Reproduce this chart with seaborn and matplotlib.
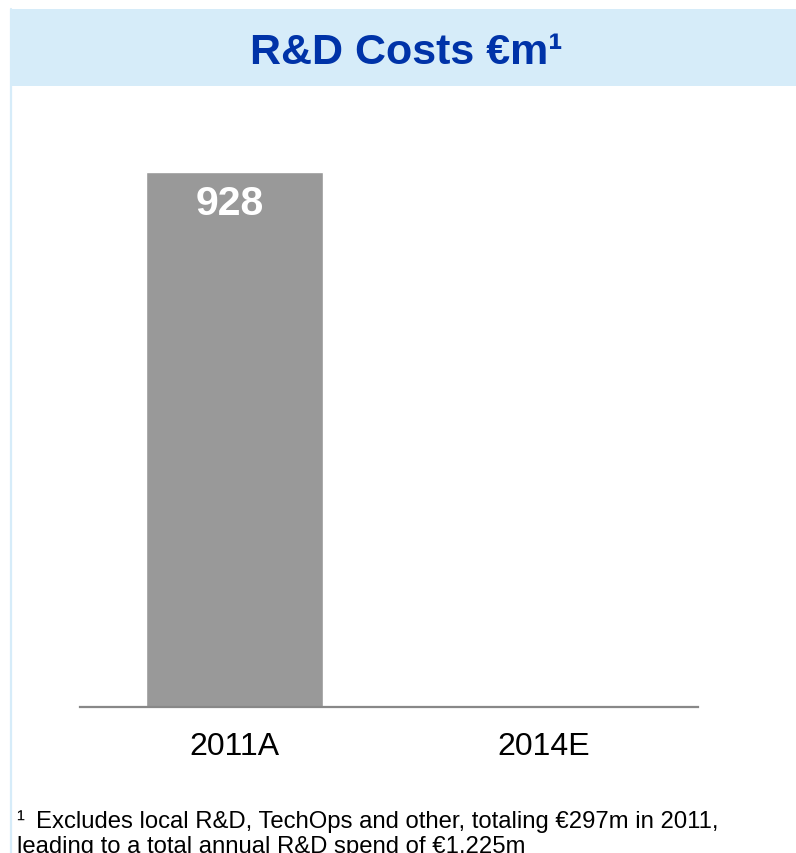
import matplotlib
matplotlib.use("Agg")
import matplotlib.pyplot as plt
import seaborn as sns
import pandas as pd
from matplotlib.patches import Rectangle
from matplotlib.lines import Line2D

# Data
categories = ["2011A", "2014E"]
values = [928, 0]
value_labels = ["928", ""]

title = "R&D Costs €m¹"
footnote_mark = "¹"
footnote_lines = [
    "Excludes local R&D, TechOps and other, totaling €297m in 2011,",
    "leading to a total annual R&D spend of €1,225m",
]

sns.set_theme(style="white")
plt.rcParams["font.family"] = ["Liberation Sans", "DejaVu Sans"]

W, H = 796, 854
fig = plt.figure(figsize=(W / 100, H / 100), dpi=100)
fig.patch.set_facecolor("white")

# Header band and left frame line
fig.patches.append(Rectangle((10 / W, 1 - 87 / H), (W - 10) / W, 77 / H,
                             transform=fig.transFigure, facecolor="#D6ECF9",
                             edgecolor="none", zorder=0))
fig.lines.append(Line2D([11 / W, 11 / W], [0, 1 - 10 / H], transform=fig.transFigure,
                        color="#D6ECF9", linewidth=1.6, zorder=0))

fig.text(406 / W, 1 - 64 / H, title, ha="center", va="baseline",
         fontsize=31, fontweight="bold", color="#0033A8")

# Plot area
ax_left, ax_right = 80, 698
ax_bottom, ax_top = 708, 120
ax = fig.add_axes([ax_left / W, 1 - ax_bottom / H,
                   (ax_right - ax_left) / W, (ax_bottom - ax_top) / H])
ax.set_facecolor("none")

df = pd.DataFrame({"period": categories, "cost": values})
sns.barplot(data=df, x="period", y="cost", color="#999999", saturation=1,
            width=0.576, ax=ax)

ax.set_xlim(-0.5, 1.5)
ax.set_ylim(0, 1020)
ax.set_xlabel("")
ax.set_ylabel("")
ax.set_yticks([])
for side in ["top", "left", "right"]:
    ax.spines[side].set_visible(False)
ax.spines["bottom"].set_color("#888888")
ax.spines["bottom"].set_linewidth(1.6)
ax.tick_params(axis="x", length=0, pad=17.5, labelsize=23, labelcolor="black")

for i, (v, lab) in enumerate(zip(values, value_labels)):
    if lab:
        ax.annotate(lab, xy=(i, v), xytext=(-3.5, -30.2), textcoords="offset points",
                    ha="center", va="baseline", fontsize=29.5, fontweight="bold",
                    color="white")

# Footnote
fig.text(16 / W, 1 - 828 / H, footnote_mark, ha="left", va="baseline",
         fontsize=17.2, color="black")
fig.text(36 / W, 1 - 828 / H, footnote_lines[0], ha="left", va="baseline",
         fontsize=17.2, color="black")
fig.text(17 / W, 1 - 853 / H, footnote_lines[1], ha="left", va="baseline",
         fontsize=17.2, color="black")

fig.savefig("out.png", dpi=100, facecolor="white")
